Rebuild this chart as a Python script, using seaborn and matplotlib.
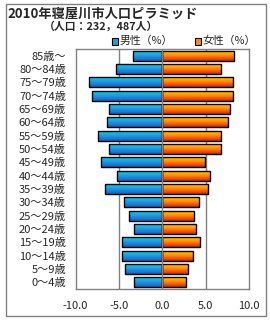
import numpy as np
import pandas as pd
import matplotlib
matplotlib.use("Agg")
import matplotlib.pyplot as plt
import seaborn as sns
from matplotlib.colors import LinearSegmentedColormap
from matplotlib.patches import Rectangle

ages = ["85歳～", "80～84歳", "75～79歳", "70～74歳", "65～69歳", "60～64歳",
        "55～59歳", "50～54歳", "45～49歳", "40～44歳", "35～39歳", "30～34歳",
        "25～29歳", "20～24歳", "15～19歳", "10～14歳", "5～9歳", "0～4歳"]
male = [-3.4, -5.3, -8.4, -8.1, -6.1, -6.4, -7.4, -6.1, -7.1, -5.2, -6.6, -4.4,
        -3.8, -3.3, -4.7, -4.6, -4.3, -3.3]
female = [8.2, 6.7, 8.1, 8.1, 7.8, 7.5, 6.8, 6.8, 4.9, 5.5, 5.3, 4.2,
          3.6, 3.9, 4.3, 3.5, 2.9, 2.7]
xticks = [-10, -5, 0, 5, 10]
xticklabels = ["-10.0", "-5.0", "0.0", "5.0", "10.0"]
title = "2010年寝屋川市人口ピラミッド"
subtitle = "（人口：232，487人）"
legend_labels = ["男性（%）", "女性（%）"]

sns.set_style("white")
plt.rcParams['font.family'] = ['Noto Sans CJK JP', 'DejaVu Sans']

df = pd.DataFrame({"age": ages, "male": male, "female": female})

fig = plt.figure(figsize=(2.7, 3.2), dpi=100)
ax = fig.add_axes([0.280, 0.097, 0.643, 0.750])

male_cmap = LinearSegmentedColormap.from_list("m", ["#22d4d4", "#1a9ee0", "#1060d0"])
fem_cmap = LinearSegmentedColormap.from_list("f", ["#ffe000", "#ff8c00", "#e82000"])

sns.barplot(data=df, y="age", x="male", orient="h", color="#1a9ee0", width=0.76,
            edgecolor="black", linewidth=1.0, ax=ax)
n_m = len(ax.patches)
sns.barplot(data=df, y="age", x="female", orient="h", color="#ff8c00", width=0.76,
            edgecolor="black", linewidth=1.0, ax=ax)

ax.set_xlim(-10, 10)
ylim = ax.get_ylim()
grad = np.linspace(0, 1, 64).reshape(-1, 1)
for i, p in enumerate(ax.patches):
    cmap = male_cmap if i < n_m else fem_cmap
    x0 = p.get_x(); w = p.get_width(); y0 = p.get_y(); h = p.get_height()
    im = ax.imshow(grad, extent=[x0, x0 + w, y0 + h, y0], aspect="auto",
                   cmap=cmap, origin="upper", zorder=2, interpolation="bilinear")
    im.set_clip_path(p)
    p.set_facecolor("none")
    p.set_zorder(3)
ax.set_xlim(-10, 10)
ax.set_ylim(ylim)

for xv in [-5, 5]:
    ax.axvline(xv, color="#808080", lw=1, zorder=1)
ax.axvline(0, color="#808080", lw=1, zorder=4)

ax.set_xticks(xticks)
ax.set_xticklabels(xticklabels, fontsize=8)
ax.tick_params(axis="x", length=0, pad=9)
ax.tick_params(axis="y", length=0, pad=7, labelsize=8)
ax.set_xlabel("")
ax.set_ylabel("")
for s in ax.spines.values():
    s.set_color("#808080")
    s.set_linewidth(1)
    s.set_visible(True)

fig.text(0.027, 0.956, title, fontsize=9.5, fontweight="bold", va="center", ha="left")
fig.text(0.373, 0.917, subtitle, fontsize=7.8, fontweight="bold", va="center", ha="center")

# legend
for (xs, lab, cmap) in [(111.5, legend_labels[0], male_cmap), (194.5, legend_labels[1], fem_cmap)]:
    r = Rectangle((xs / 270, (320 - 45) / 320), 6 / 270, 7 / 320, transform=fig.transFigure,
                  facecolor=cmap(0.5), edgecolor="black", lw=0.8)
    fig.patches.append(r)
    fig.text((xs + 8) / 270, (320 - 41) / 320, lab, fontsize=7.8, va="center", ha="left")

border = Rectangle((6 / 270, 4 / 320), 260 / 270, 312 / 320, transform=fig.transFigure,
                   facecolor="none", edgecolor="#808080", lw=1)
fig.patches.append(border)

fig.savefig("out.png", dpi=100)
